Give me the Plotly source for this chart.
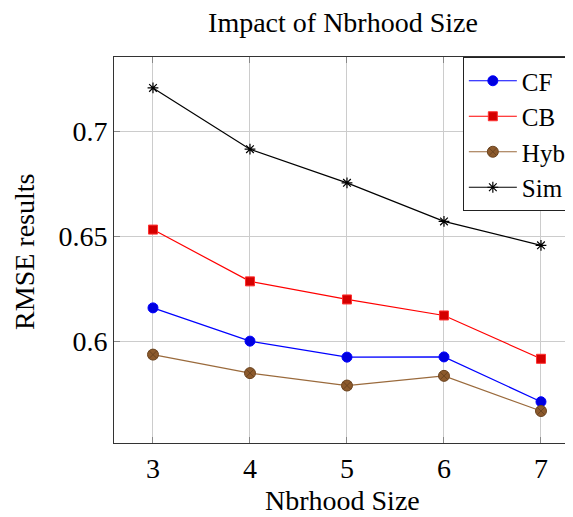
import plotly.graph_objects as go

nbrhood = [3, 4, 5, 6, 7]
cf = [0.6160, 0.6002, 0.5926, 0.5927, 0.5714]
cb = [0.6532, 0.6286, 0.6200, 0.6124, 0.5918]
hyb = [0.5938, 0.5850, 0.5791, 0.5837, 0.5670]
sim = [0.7205, 0.6914, 0.6754, 0.6571, 0.6457]
x_ticks = [3, 4, 5, 6, 7]
y_ticks = [0.6, 0.65, 0.7]
y_tick_text = ["0.6", "0.65", "0.7"]

FONT = "Liberation Serif"

fig = go.Figure()
fig.add_trace(go.Scatter(x=nbrhood, y=cf, name="CF", mode="lines+markers",
                         line=dict(color="#0000ff", width=1.2),
                         marker=dict(symbol="circle", size=10, color="#0000e0",
                                     line=dict(color="#0000ff", width=1))))
fig.add_trace(go.Scatter(x=nbrhood, y=cb, name="CB", mode="lines+markers",
                         line=dict(color="#ff0000", width=1.2),
                         marker=dict(symbol="square", size=9, color="#d40000",
                                     line=dict(color="#ff3030", width=1))))
fig.add_trace(go.Scatter(x=nbrhood, y=hyb, name="Hyb", mode="lines+markers",
                         line=dict(color="#9a6a3c", width=1.2),
                         marker=dict(symbol="circle-x", size=11, color="#8c5a2c",
                                     line=dict(color="#6b4420", width=1))))
fig.add_trace(go.Scatter(x=nbrhood, y=sim, name="Sim", mode="lines+markers",
                         line=dict(color="#000000", width=1.2),
                         marker=dict(symbol="asterisk-open", size=9, color="#000000",
                                     line=dict(color="#000000", width=1.2))))

fig.update_layout(
    width=565, height=509,
    margin=dict(l=106, r=0, t=49, b=74, autoexpand=False),
    paper_bgcolor="white", plot_bgcolor="white",
    font=dict(family=FONT, size=28, color="black"),
    title=dict(text="Impact of Nbrhood Size", xref="paper", x=0.4989, xanchor="center",
               yref="container", y=1 - 14 / 509, yanchor="middle", font=dict(size=28)),
    showlegend=True,
    legend=dict(x=0.760, y=1, xanchor="left", yanchor="top",
                bgcolor="white", bordercolor="#222", borderwidth=1,
                font=dict(size=25), tracegroupgap=0, itemwidth=48),
    xaxis=dict(range=[2.598, 7.33], tickvals=x_ticks, ticks="inside", ticklen=6,
               tickcolor="#888", showline=True, linecolor="#333", linewidth=1,
               mirror="allticks", showgrid=True, gridcolor="#cccccc", gridwidth=1,
               zeroline=False, automargin=False, tickfont=dict(size=28)),
    yaxis=dict(range=[0.5518, 0.7352], tickvals=y_ticks, ticktext=y_tick_text,
               ticks="inside", ticklen=6, tickcolor="#888", showline=True,
               linecolor="#333", linewidth=1, mirror=False, showgrid=True,
               gridcolor="#cccccc", gridwidth=1, zeroline=False,
               automargin=False, tickfont=dict(size=28)),
    annotations=[
        dict(text="Nbrhood Size", xref="paper", yref="paper", x=0.4989, y=-57 / 386,
             xanchor="center", yanchor="middle", showarrow=False,
             font=dict(size=28)),
        dict(text="RMSE results", xref="paper", yref="paper", x=(25 - 114) / 459,
             y=0.495, xanchor="center", yanchor="middle", textangle=-90,
             showarrow=False, font=dict(size=28)),
    ],
)

fig.write_html("out.html")
